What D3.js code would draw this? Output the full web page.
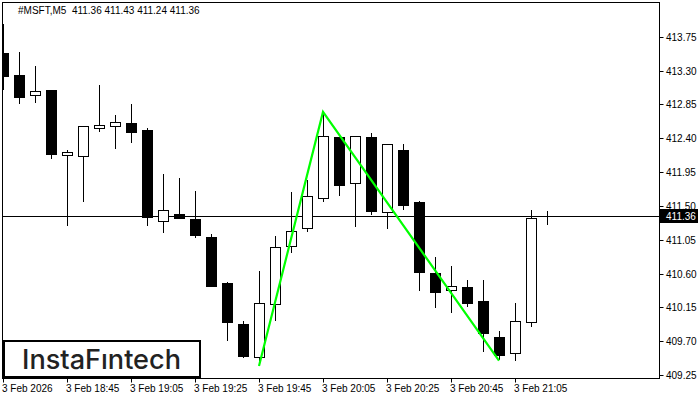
<!DOCTYPE html>
<html><head><meta charset="utf-8">
<script src="https://cdn.jsdelivr.net/npm/d3@7/dist/d3.min.js"></script>
<style>html,body{margin:0;padding:0;background:#fff;}svg{display:block;}</style>
</head><body>
<svg id="c" width="700" height="400"></svg>
<script>
// ---- data ----
const opens  = [413.53,413.24,412.97,413.04,412.18,412.16,412.54,412.56,412.60,412.51,411.30,411.39,411.33,411.09,410.47,409.93,409.49,410.19,410.97,411.21,411.60,412.42,411.80,412.42,411.42,412.24,411.55,410.61,410.38,410.42,410.23,409.76,409.54,409.96,411.36];
const highs  = [413.92,413.55,413.36,413.04,412.24,412.56,413.11,412.71,412.85,412.54,411.92,411.87,411.70,411.13,410.49,409.97,410.63,411.10,411.68,411.84,412.75,412.42,412.43,412.47,412.32,412.32,411.56,410.82,410.70,410.51,410.51,409.84,410.21,411.44,411.43];
const lows   = [413.04,412.85,412.87,412.12,411.23,411.55,412.48,412.26,412.34,411.23,411.14,411.33,411.07,410.42,409.70,409.48,409.42,409.97,410.87,411.15,411.55,411.63,411.22,411.38,411.19,411.44,410.37,410.14,410.07,410.15,409.56,409.45,409.44,409.89,411.24];
const closes = [413.23,412.95,413.03,412.19,412.22,412.56,412.58,412.62,412.48,411.35,411.44,411.34,411.11,410.43,409.96,409.50,410.21,410.95,411.17,411.63,412.43,411.78,412.43,411.43,412.32,411.51,410.62,410.35,410.43,410.21,409.81,409.52,409.97,411.34,411.36];
const timeTickIdx = [0,4,8,12,16,20,24,28,32];
const timeTickLabels = ["3 Feb 2026","3 Feb 18:45","3 Feb 19:05","3 Feb 19:25","3 Feb 19:45","3 Feb 20:05","3 Feb 20:25","3 Feb 20:45","3 Feb 21:05"];
const priceTicks = [413.75,413.30,412.85,412.40,411.95,411.50,411.05,410.60,410.15,409.70,409.25];
const patternIdx = [16,20,31];
const patternPrice = [409.37,412.75,409.44];
const lastPrice = 411.36;
const titleText = "#MSFT,M5  411.36 411.43 411.24 411.36";
const watermark = "InstaF\u0131ntech";

// ---- layout ----
const svg = d3.select("#c");
const L = 2, R = 659, T = 2, B = 378;
const x = d3.scaleLinear().domain([0, 40]).range([3, 643]);
const y = d3.scaleLinear().domain([409.25, 413.75]).range([375, 36.7]);
const font = "'Liberation Sans', Arial, sans-serif";

svg.append("defs").append("clipPath").attr("id","plot")
  .append("rect").attr("x",L).attr("y",T).attr("width",R-L).attr("height",B-T);

const g = svg.append("g").attr("clip-path","url(#plot)");

// current price line
g.append("line")
  .attr("x1",L).attr("x2",R)
  .attr("y1",Math.round(y(lastPrice))+0.5).attr("y2",Math.round(y(lastPrice))+0.5)
  .attr("stroke","#000").attr("stroke-width",1);

// candles
const data = opens.map((o,i)=>({i,o,h:highs[i],l:lows[i],c:closes[i]}));
const cg = g.selectAll("g.candle").data(data).enter().append("g");
cg.append("line")
  .attr("x1",d=>Math.round(x(d.i))+0.5).attr("x2",d=>Math.round(x(d.i))+0.5)
  .attr("y1",d=>Math.round(y(d.h))).attr("y2",d=>Math.round(y(d.l)))
  .attr("stroke","#000").attr("stroke-width",1);
cg.append("rect")
  .attr("x",d=>Math.round(x(d.i))-4.5)
  .attr("width",10)
  .attr("y",d=>Math.round(y(Math.max(d.o,d.c)))+0.5)
  .attr("height",d=>Math.max(0, Math.round(y(Math.min(d.o,d.c)))-Math.round(y(Math.max(d.o,d.c)))))
  .attr("fill",d=>d.c>=d.o?"#fff":"#000")
  .attr("stroke","#000").attr("stroke-width",1);

// pattern line
g.append("path")
  .datum(patternIdx.map((d,k)=>[d,patternPrice[k]]))
  .attr("d", d3.line().x(d=>x(d[0])).y(d=>y(d[1])))
  .attr("fill","none").attr("stroke","#00ff00").attr("stroke-width",2.2);

// frame
svg.append("rect").attr("x",L+0.5).attr("y",T+0.5).attr("width",R-L).attr("height",B-T)
  .attr("fill","none").attr("stroke","#000").attr("stroke-width",1);

// right axis
const ra = svg.append("g");
priceTicks.forEach(p=>{
  const yy = Math.round(y(p))+0.5;
  ra.append("line").attr("x1",R+0.5).attr("x2",R+4.5).attr("y1",yy).attr("y2",yy).attr("stroke","#000");
  ra.append("text").attr("x",666).attr("y",yy).attr("dy","0.35em")
    .attr("font-family",font).attr("font-size",10).attr("fill","#000").text(p.toFixed(2));
});
// last price label
const ly = Math.round(y(lastPrice));
ra.append("rect").attr("x",R+1).attr("y",ly-7).attr("width",38).attr("height",14).attr("fill","#000");
ra.append("text").attr("x",666).attr("y",ly+0.5).attr("dy","0.35em")
  .attr("font-family",font).attr("font-size",10).attr("fill","#fff").text(lastPrice.toFixed(2));

// bottom axis
const ba = svg.append("g");
timeTickIdx.forEach((ti,k)=>{
  const xx = Math.round(x(ti))+0.5;
  ba.append("line").attr("x1",xx).attr("x2",xx).attr("y1",B+0.5).attr("y2",B+4.5).attr("stroke","#000");
  ba.append("text").attr("x",xx-1.5).attr("y",392)
    .attr("font-family",font).attr("font-size",10).attr("fill","#000").text(timeTickLabels[k]);
});

// title
svg.append("text").attr("x",18).attr("y",14)
  .attr("font-family",font).attr("font-size",10).attr("fill","#000")
  .attr("xml:space","preserve").style("white-space","pre").text(titleText);

// watermark
svg.append("rect").attr("x",4).attr("y",341).attr("width",196).attr("height",36)
  .attr("fill","#fff").attr("stroke","#000").attr("stroke-width",2);
svg.append("text").attr("x",22).attr("y",369)
  .attr("font-family","Inter, 'Noto Sans', sans-serif").attr("font-size",27).attr("font-weight",500)
  .attr("fill","#222").attr("textLength",159).attr("lengthAdjust","spacingAndGlyphs").text(watermark);
</script>
</body></html>
